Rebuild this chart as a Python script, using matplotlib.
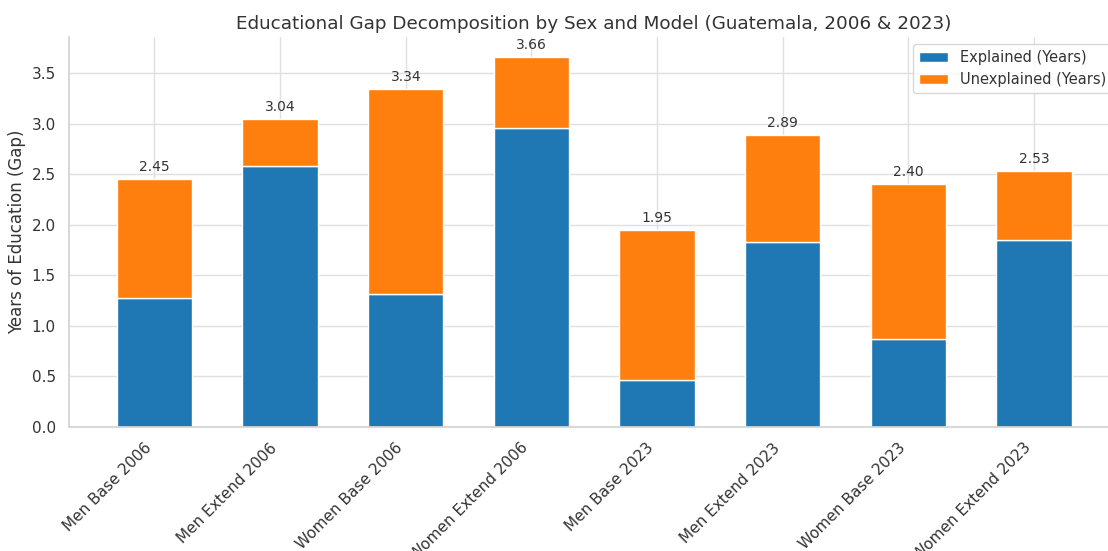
import matplotlib
matplotlib.use("Agg")
import matplotlib.pyplot as plt
import seaborn as sns
import numpy as np

categories = ["Men Base 2006", "Men Extend 2006", "Women Base 2006", "Women Extend 2006",
              "Men Base 2023", "Men Extend 2023", "Women Base 2023", "Women Extend 2023"]
explained = [1.28, 2.58, 1.31, 2.96, 0.46, 1.83, 0.87, 1.85]
total_gap = [2.45, 3.04, 3.34, 3.66, 1.95, 2.89, 2.40, 2.53]
unexplained = [t - e for t, e in zip(total_gap, explained)]

sns.set_theme(style="whitegrid", rc={"grid.color": "#e0e0e0", "axes.edgecolor": "#d4d4d4"})
plt.rcParams['font.family'] = ['DejaVu Sans']
plt.rcParams['text.color'] = '#333333'
plt.rcParams['axes.labelcolor'] = '#333333'
plt.rcParams['xtick.color'] = '#333333'
plt.rcParams['ytick.color'] = '#333333'

fig = plt.figure(figsize=(11.08, 5.51), dpi=100)
ax = fig.add_axes([0.0623, 0.225, 0.948, 0.708])

x = np.arange(len(categories))
ax.bar(x, explained, width=0.6, color="#1f77b4", edgecolor="white", label="Explained (Years)")
ax.bar(x, unexplained, width=0.6, bottom=explained, color="#ff7f0e", edgecolor="white",
       label="Unexplained (Years)")

for xi, t in zip(x, total_gap):
    ax.text(xi, t + 0.05, f"{t:.2f}", ha="center", va="bottom", fontsize=10, color="#333333")

ax.set_xticks(x)
ax.set_xticklabels(categories, rotation=45, ha="right", fontsize=11)
ax.tick_params(axis="y", labelsize=11)
ax.set_ylabel("Years of Education (Gap)", fontsize=12)
ax.set_title("Educational Gap Decomposition by Sex and Model (Guatemala, 2006 & 2023)", fontsize=13.2)
ax.set_xlim(-0.68, 7.68)
ax.set_ylim(0, 3.856)
ax.legend(loc="upper right", fontsize=10.5)
sns.despine(ax=ax)

fig.savefig("out.png", dpi=100)
